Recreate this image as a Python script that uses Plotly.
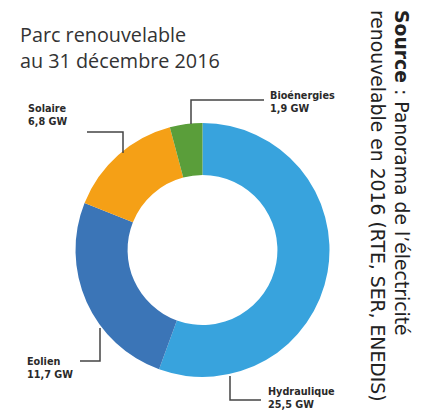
import plotly.graph_objects as go

# Renewable capacity in France at 31 Dec 2016 (GW)
categories = ["Hydraulique", "Eolien", "Solaire", "Bioénergies"]
capacity_gw = [25.5, 11.7, 6.8, 1.9]
colors = ["#38a3dd", "#3b75b7", "#f5a016", "#5a9e3a"]

W, H = 427, 412


def px(x, y):
    """Pixel position (from top-left) -> paper coordinates."""
    return x / W, 1 - y / H


def gw(v):
    return f"{v:.1f}".replace(".", ",") + " GW"


fig = go.Figure()

# Donut: centre (202.5, 250), outer radius 127 px
cx, cy, r = 202.5, 250, 127
x0, y1 = px(cx - r, cy - r)
x1, y0 = px(cx + r, cy + r)
fig.add_trace(go.Pie(
    labels=categories,
    values=capacity_gw,
    marker=dict(colors=colors, line=dict(width=0)),
    hole=0.59,
    sort=False,
    direction="clockwise",
    rotation=0,
    textinfo="none",
    showlegend=False,
    domain=dict(x=[x0, x1], y=[y0, y1]),
))

# Label placement (top-left pixel of the text block) and leader paths
label_pos = {
    "Solaire": (27, 102),
    "Bioénergies": (269, 89),
    "Eolien": (26, 355),
    "Hydraulique": (267, 385),
}
leaders = {
    "Solaire": [(87, 132), (123, 132), (123, 153)],
    "Bioénergies": [(264, 100), (191, 100), (191, 124)],
    "Eolien": [(80, 361), (100, 361), (100, 328)],
    "Hydraulique": [(261, 400), (230, 400), (230, 376)],
}

for name, val in zip(categories, capacity_gw):
    lx, ly = label_pos[name]
    ax_, ay_ = px(lx, ly)
    fig.add_annotation(
        x=ax_, y=ay_, xref="paper", yref="paper",
        xanchor="left", yanchor="top", align="left",
        text=f"<b>{name}</b><br><b>{gw(val)}</b>",
        showarrow=False,
        font=dict(family="DejaVu Sans", size=9.7, color="#2a2a2a"),
        borderpad=0,
    )
    pts = [px(x, y) for x, y in leaders[name]]
    path = "M " + " L ".join(f"{x},{y}" for x, y in pts)
    fig.add_shape(type="path", path=path, xref="paper", yref="paper",
                  line=dict(color="#444444", width=1.5))

# Title
tx, ty = px(19, 20)
fig.add_annotation(
    x=tx, y=ty, xref="paper", yref="paper",
    xanchor="left", yanchor="top", align="left",
    text="Parc renouvelable<br>au 31 décembre 2016",
    showarrow=False,
    font=dict(family="Open Sans", size=19.8, color="#333333"),
    borderpad=0,
)

# Source, written vertically along the right edge
sx, sy = px(390, 9)
fig.add_annotation(
    x=sx, y=sy, xref="paper", yref="paper",
    xanchor="center", yanchor="top", align="left",
    textangle=90,
    text="<b>Source</b> : Panorama de l’électricité<br>renouvelable en 2016 (RTE, SER, ENEDIS)",
    showarrow=False,
    font=dict(family="DejaVu Sans", size=18.8, color="#222222"),
    borderpad=0,
)

fig.update_layout(
    width=W, height=H,
    margin=dict(l=0, r=0, t=0, b=0),
    paper_bgcolor="white",
    plot_bgcolor="white",
)

fig.write_html("out.html")
